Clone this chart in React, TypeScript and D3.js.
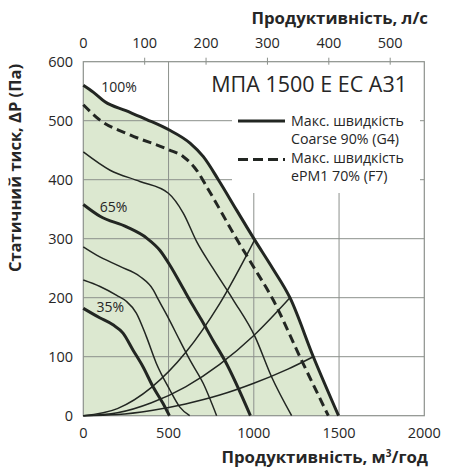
import * as d3 from "d3";

type Pt = [number, number];

// axes
const flowTicks = [0, 500, 1000, 1500, 2000];
const flowTicksLs = [0, 100, 200, 300, 400, 500];
const pressureTicks = [0, 100, 200, 300, 400, 500, 600];
const gridFlow = [500, 1000, 1500];
const gridPressure = [100, 200, 300, 400, 500];

// fan curves, [m3/h, Pa]
const maxCoarse: Pt[] = [
  [0, 560], [60, 548], [127, 532], [250, 517], [372, 502], [499, 485],
  [626, 462], [704, 439], [792, 400], [900, 348], [1005, 298], [1110, 250],
  [1212, 200], [1349, 100], [1497, 0],
];
const maxEpm1: Pt[] = [
  [0, 527], [98, 501], [274, 476], [499, 451], [587, 439], [665, 416],
  [724, 388], [800, 350], [880, 309], [997, 253], [1114, 196], [1275, 97],
  [1437, 0],
];
const speed80: Pt[] = [
  [0, 447], [157, 416], [332, 397], [499, 377], [587, 343], [665, 295],
  [760, 250], [880, 196], [1007, 134], [1104, 66], [1222, 0],
];
const speed65: Pt[] = [
  [0, 358], [98, 338], [254, 320], [372, 301], [450, 280], [508, 255],
  [587, 215], [624, 196], [692, 163], [760, 128], [831, 93], [980, 0],
];
const speed52: Pt[] = [
  [0, 286], [78, 272], [215, 253], [332, 236], [411, 213], [438, 198],
  [500, 165], [565, 128], [630, 92], [703, 55], [782, 0],
];
const speed41: Pt[] = [
  [0, 230], [98, 219], [196, 204], [252, 194], [311, 174], [370, 134],
  [428, 89], [507, 44], [565, 15], [624, 0],
];
const speed35: Pt[] = [
  [0, 182], [96, 166], [174, 154], [233, 140], [292, 111], [350, 83],
  [409, 49], [467, 21], [505, 0],
];

// system curves
const system1: Pt[] = [[0, 0], [200, 12], [400, 48], [600, 107], [800, 190], [1005, 298]];
const system2: Pt[] = [[0, 0], [200, 5], [400, 22], [600, 49], [800, 87], [1000, 136], [1212, 200]];
const system3: Pt[] = [[0, 0], [200, 2], [400, 9], [600, 20], [800, 35], [1000, 55], [1200, 79], [1349, 100]];

const speedLabels = [
  { text: "100%", at: [105, 548] as Pt },
  { text: "65%", at: [96, 345] as Pt },
  { text: "35%", at: [78, 175] as Pt },
];

const title = "МПА 1500 E EC A31";
const legendLines = ["Макс. швидкість", "Coarse 90% (G4)", "Макс. швидкість", "ePM1 70% (F7)"];

const INK = "#222622";
const TEXT = "#262626";
const GRID = "#8c918c";
const FILL = "#dce8d0";
const FONT = "'Open Sans', sans-serif";

export default function App() {
  const x = d3.scaleLinear().domain([0, 2000]).range([83.3, 424.3]);
  const xLs = d3.scaleLinear().domain([0, 2000 / 3.6]).range([83.3, 424.3]);
  const y = d3.scaleLinear().domain([0, 600]).range([415.7, 61.7]);

  const line = d3
    .line<Pt>()
    .x((d) => x(d[0]))
    .y((d) => y(d[1]))
    .curve(d3.curveMonotoneX);
  const area = d3
    .area<Pt>()
    .x((d) => x(d[0]))
    .y0(y(0))
    .y1((d) => y(d[1]))
    .curve(d3.curveMonotoneX);

  const thick = [maxCoarse, speed65, speed35];
  const thin = [speed80, speed52, speed41, system1, system2, system3];

  return (
    <svg
      width={450}
      height={475}
      style={{ position: "absolute", left: 0, top: 0, background: "#fff" }}
      fontFamily={FONT}
    >
      <path d={area(maxCoarse) ?? ""} fill={FILL} />

      {/* grid */}
      {gridPressure.map((p) => (
        <line key={"h" + p} x1={x(0)} x2={x(2000)} y1={y(p)} y2={y(p)} stroke={GRID} strokeWidth={1} />
      ))}
      {gridFlow.map((f) => (
        <line key={"v" + f} x1={x(f)} x2={x(f)} y1={y(0)} y2={y(600)} stroke={GRID} strokeWidth={1} />
      ))}

      {/* legend / title box */}
      <rect x={232} y={y(600)} width={188} height={193 - y(600)} fill="#fff" />

      <rect x={x(0)} y={y(600)} width={x(2000) - x(0)} height={y(0) - y(600)} fill="none" stroke={GRID} strokeWidth={1.2} />

      {/* top ticks */}
      {flowTicksLs.slice(1).map((t) => (
        <line key={"tt" + t} x1={xLs(t)} x2={xLs(t)} y1={y(600) - 4} y2={y(600) + 3} stroke={GRID} strokeWidth={1} />
      ))}

      {/* curves */}
      {thin.map((c, i) => (
        <path key={"thin" + i} d={line(c) ?? ""} fill="none" stroke={INK} strokeWidth={1.5} />
      ))}
      {thick.map((c, i) => (
        <path key={"thick" + i} d={line(c) ?? ""} fill="none" stroke={INK} strokeWidth={3} />
      ))}
      <path d={line(maxEpm1) ?? ""} fill="none" stroke={INK} strokeWidth={3} strokeDasharray="9,5" />

      {speedLabels.map((l) => (
        <text key={l.text} x={x(l.at[0])} y={y(l.at[1])} fontSize={14} fill={TEXT}>
          {l.text}
        </text>
      ))}

      {/* y ticks */}
      {pressureTicks.map((p) => (
        <text key={"yt" + p} x={73} y={y(p) + 5} textAnchor="end" fontSize={14.5} fill={TEXT}>
          {p}
        </text>
      ))}
      {/* x ticks bottom */}
      {flowTicks.map((f) => (
        <text key={"xb" + f} x={x(f)} y={438} textAnchor="middle" fontSize={14.5} fill={TEXT}>
          {f}
        </text>
      ))}
      {/* x ticks top */}
      {flowTicksLs.map((f) => (
        <text key={"xt" + f} x={xLs(f)} y={48} textAnchor="middle" fontSize={14.5} fill={TEXT}>
          {f}
        </text>
      ))}

      {/* axis titles */}
      <text x={428} y={24} textAnchor="end" fontSize={16.8} fontWeight="bold" fill={TEXT}>
        Продуктивність, л/с
      </text>
      <text x={428} y={463} textAnchor="end" fontSize={16.8} fontWeight="bold" fill={TEXT}>
        Продуктивність, м<tspan fontSize={10} dy={-6}>3</tspan>
        <tspan dy={6}>/год</tspan>
      </text>
      <text
        transform="translate(21,168) rotate(-90)"
        textAnchor="middle"
        fontSize={16.5}
        fontWeight="bold"
        fill={TEXT}
      >
        Статичний тиск, ΔP (Па)
      </text>

      {/* title + legend */}
      <text x={407} y={92} textAnchor="end" fontSize={21.5} fill={TEXT}>
        {title}
      </text>
      <line x1={238} x2={285} y1={121} y2={121} stroke={INK} strokeWidth={3} />
      <line x1={238} x2={285} y1={159.5} y2={159.5} stroke={INK} strokeWidth={3} strokeDasharray="10,5" />
      {legendLines.map((t, i) => (
        <text key={"lg" + i} x={291} y={[125.5, 143.5, 163, 181][i]} fontSize={14.2} fill={TEXT}>
          {t}
        </text>
      ))}
    </svg>
  );
}
